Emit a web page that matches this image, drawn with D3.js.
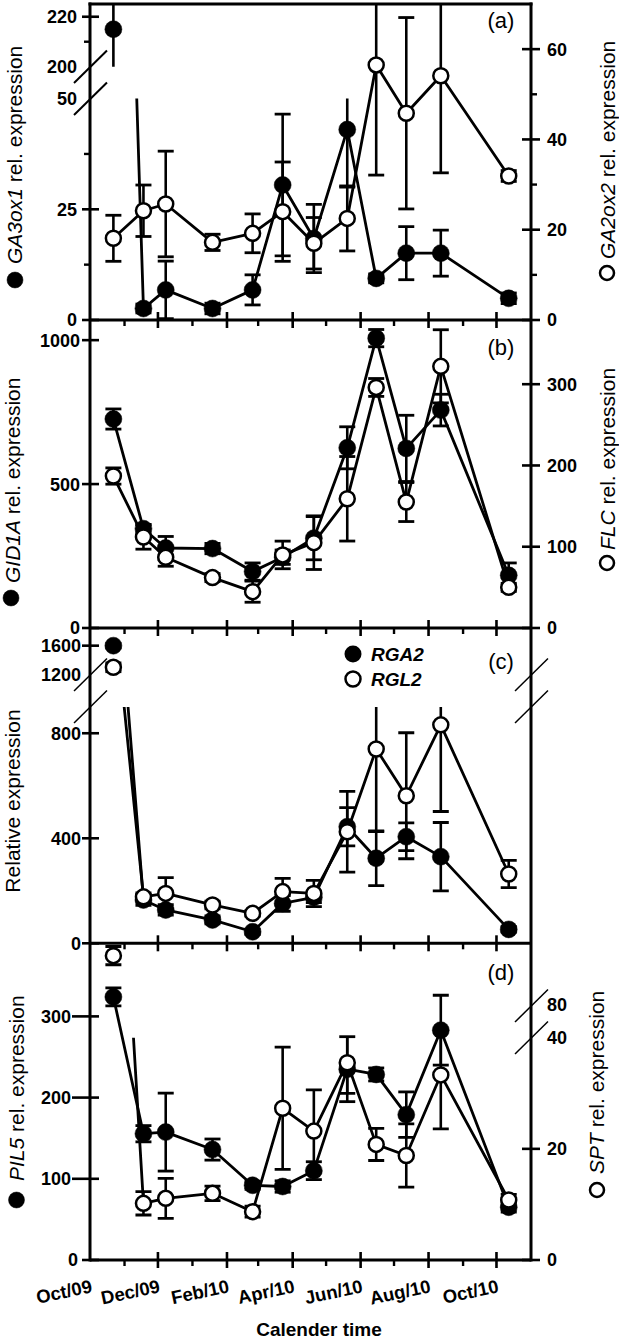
<!DOCTYPE html>
<html><head><meta charset="utf-8">
<script src="https://cdn.jsdelivr.net/npm/d3@7"></script>
<style>body{margin:0;background:#fff}svg{display:block}text{font-family:"Liberation Sans",Arial,sans-serif;fill:#000}</style>
</head><body><svg id="c" width="619" height="1339"></svg>
<script>
// ---------- data ----------
const sampleDates = ["2009-10-22","2009-11-18","2009-12-08","2010-01-19","2010-02-24","2010-03-23",
                     "2010-04-20","2010-05-20","2010-06-15","2010-07-12","2010-08-12","2010-10-12"];
const monthLabels = ["Oct/09","Dec/09","Feb/10","Apr/10","Jun/10","Aug/10","Oct/10"];

// (a)
const ga3ox1    = [215, 2.6, 6.8, 2.6, 6.8, 30.5, 18.4, 43, 9.4, 15.1, 15.1, 4.9];
const ga3ox1Err = [16, 1, 6.5, 1.2, 3.4, 16, 7.7, 13, 1, 6, 5.2, 1.2];
const ga2ox2    = [18.1, 24.2, 25.7, 17.2, 19.2, 24, 17.0, 22.5, 56.5, 45.8, 54.1, 31.9];
const ga2ox2Err = [5.1, 5.7, 11.7, 1.8, 4.3, 11, 5.7, 7.2, 24.4, 21.2, 21.5, 1.2];
// (b)
const gid1a    = [726, 345, 278, 276, 196, 246, 312, 626, 1007, 624, 757, 183];
const gid1aErr = [35, 15, 40, 18, 30, 25, 75, 73, 30, 115, 55, 43];
const flc      = [187, 112, 87, 62, 44.7, 89.9, 105, 159, 296, 155, 322, 50];
const flcErr   = [10, 15, 11, 5, 13, 17, 33, 52, 11, 24, 45, 5];
// (c)
const rga2    = [1600, 165, 127, 89, 44, 152, 175, 444, 324, 406, 330, 53];
const rga2Err = [30, 20, 20, 15, 10, 30, 20, 73, 104, 53, 130, 10];
const rgl2    = [1305, 177, 190, 146, 114, 197, 190, 425, 740, 562, 832, 264];
const rgl2Err = [60, 15, 60, 15, 10, 50, 50, 154, 315, 240, 330, 52];
// (d)
const pil5    = [324, 155.5, 157.5, 136, 92, 90.5, 110, 235, 228.5, 179, 283, 65];
const pil5Err = [11, 10, 48, 13, 5, 7, 11, 40, 8, 28, 43, 6];
const spt     = [100, 10.2, 11.1, 12.0, 8.7, 27.3, 23.2, 35.5, 20.8, 18.8, 33.3, 10.8];
const sptErr  = [3.7, 2.1, 3.6, 1.3, 1, 11, 7.4, 5.5, 2.9, 5.7, 9.7, 1];

// tick values
const aLeftMajor = [0, 25], aLeftMinor = [12.5, 37.5], aLeftLabels = [0, 25, 50];
const aUpMajor = [220], aUpMinor = [210], aUpLabels = [200, 220];
const aRightMajor = [0, 20, 40, 60], aRightMinor = [10, 30, 50];
const bLeftMajor = [0, 500, 1000], bRightMajor = [0, 100, 200, 300];
const cLeftMajor = [0, 400, 800], cUpMajor = [1600], cUpLabels = [1200, 1600];
const dLeftMajor = [0, 100, 200, 300], dRightMajor = [0, 20], dRightLabels = [0, 20, 40], dRightUpLabels = [80];

// ---------- setup ----------
const svg = d3.select("#c");
const parse = d3.utcParse("%Y-%m-%d");
const dates = sampleDates.map(parse);
const L = 90, R = 531;
const x = d3.scaleUtc().domain([new Date(Date.UTC(2009,9,1)), new Date(Date.UTC(2010,10,1))]).range([L, R]);

let clipN = 0;
function clip(y0, y1){
  const id = "cl" + (clipN++);
  svg.append("clipPath").attr("id", id).append("rect")
     .attr("x", 0).attr("y", y0).attr("width", 619).attr("height", y1 - y0);
  return `url(#${id})`;
}
function ln(g, x1, y1, x2, y2, w){
  return g.append("line").attr("x1",x1).attr("y1",y1).attr("x2",x2).attr("y2",y2)
          .attr("stroke","#000").attr("stroke-width",w).attr("stroke-linecap","butt");
}

function series(o){
  const useUp = v => o.upper && v >= o.thr;
  const clipL = clip(o.lowerClip[0], o.lowerClip[1]);
  const clipU = o.upper ? clip(o.upperClip[0], o.upperClip[1]) : null;
  const g = svg.append("g");
  o.vals.forEach((v, i) => {
    const s = useUp(v) ? o.upper : o.lower;
    const eg = g.append("g").attr("clip-path", useUp(v) ? clipU : clipL);
    const xx = x(dates[i]), e = o.errs[i];
    const y1 = s(v - e), y2 = s(v + e);
    ln(eg, xx, y1, xx, y2, 2.6);
    ln(eg, xx - 8, y1, xx + 8, y1, 2.8);
    ln(eg, xx - 8, y2, xx + 8, y2, 2.8);
  });
  g.append("path").datum(o.vals).attr("clip-path", clipL)
    .attr("d", d3.line().x((d, i) => x(dates[i])).y(d => o.lower(d)))
    .attr("fill", "none").attr("stroke", "#000").attr("stroke-width", 2.8).attr("stroke-linejoin","round");
  g.selectAll("circle.p").data(o.vals).join("circle")
    .attr("cx", (d, i) => x(dates[i]))
    .attr("cy", d => useUp(d) ? o.upper(d) : o.lower(d))
    .attr("r", o.filled ? 8.5 : 7.5)
    .attr("fill", o.filled ? "#000" : "#fff")
    .attr("stroke", "#000").attr("stroke-width", o.filled ? 0.5 : 2.5);
}

const tickFont = 18;
function leftTicks(scale, major, minor, labels, labelX, outer){
  const g = svg.append("g");
  major.forEach(v => ln(g, L - (outer||8), scale(v), L + 9, scale(v), 2.6));
  (minor||[]).forEach(v => ln(g, L - 6, scale(v), L, scale(v), 2.4));
  labels.forEach(v => g.append("text").attr("x", labelX).attr("y", scale(v)).attr("dy","0.36em")
     .attr("text-anchor","end").attr("font-weight","bold").attr("font-size", tickFont).text(v));
}
function rightTicks(scale, major, minor, labels){
  const g = svg.append("g");
  major.forEach(v => ln(g, R - 9, scale(v), R + 9, scale(v), 2.6));
  (minor||[]).forEach(v => ln(g, R, scale(v), R + 6, scale(v), 2.4));
  labels.forEach(v => g.append("text").attr("x", 547).attr("y", scale(v)).attr("dy","0.36em")
     .attr("text-anchor","start").attr("font-weight","bold").attr("font-size", tickFont).text(v));
}
function bottomTicks(y){
  const g = svg.append("g");
  d3.utcMonths(new Date(Date.UTC(2009,10,1)), new Date(Date.UTC(2010,10,1))).forEach(m => {
    const xx = x(m);
    if (m.getUTCMonth() % 2 === 1) ln(g, xx, y - 8, xx, y + 8, 2.6);
    else ln(g, xx, y, xx, y + 6, 2.4);
  });
}
function breakMark(cx, cy, w){
  ln(svg, cx - 16, cy + 16, cx + 17, cy - 16.5, w);
}
function yTitle(tx, ty, gene, rest, circ, anchor){
  const t = svg.append("text").attr("transform", `translate(${tx},${ty}) rotate(-90)`)
    .attr("font-size", 21).attr("text-anchor", anchor || "start");
  if (gene) t.append("tspan").attr("font-style","italic").text(gene);
  t.append("tspan").text(rest);
  if (circ) svg.append("circle").attr("cx", circ[0]).attr("cy", circ[1]).attr("r", circ[2] ? 8 : 7)
     .attr("fill", circ[2] ? "#000" : "#fff").attr("stroke","#000").attr("stroke-width", circ[2] ? 0.5 : 2.5);
}
function panelLabel(s, y){
  svg.append("text").attr("x", 501).attr("y", y).attr("text-anchor","middle").attr("font-size", 22).text(s);
}

// ---------- scales ----------
const aLower = d3.scaleLinear().domain([0, 50]).range([320, 98.6]);
const aUpper = d3.scaleLinear().domain([200, 225.1]).range([66.7, 4]);
const aRight = d3.scaleLinear().domain([0, 70]).range([320, 4]);
const bLeft  = d3.scaleLinear().domain([0, 1070]).range([628, 320]);
const bRight = d3.scaleLinear().domain([0, 379]).range([628, 320]);
const cLower = d3.scaleLinear().domain([0, 900]).range([943.3, 707]);
const cUpper = d3.scaleLinear().domain([1200, 1841]).range([675, 628]);
const dLeft  = d3.scaleLinear().domain([0, 390]).range([1260, 943.3]);
const dRightLo = d3.scaleLinear().domain([0, 40]).range([1260, 1037.7]);
const dRightUp = d3.scaleLinear().domain([80, 105]).range([1005, 943.3]);

// ---------- series ----------
series({vals: ga3ox1, errs: ga3ox1Err, filled: true, lower: aLower, lowerClip: [98.6, 320], upper: aUpper, upperClip: [4, 66.7], thr: 100});
series({vals: ga2ox2, errs: ga2ox2Err, filled: false, lower: aRight, lowerClip: [4, 320]});
series({vals: gid1a, errs: gid1aErr, filled: true, lower: bLeft, lowerClip: [320, 628]});
series({vals: flc, errs: flcErr, filled: false, lower: bRight, lowerClip: [320, 628]});
series({vals: rga2, errs: rga2Err, filled: true, lower: cLower, lowerClip: [707, 943.3], upper: cUpper, upperClip: [628, 675], thr: 1000});
series({vals: rgl2, errs: rgl2Err, filled: false, lower: cLower, lowerClip: [707, 943.3], upper: cUpper, upperClip: [628, 675], thr: 1000});
series({vals: pil5, errs: pil5Err, filled: true, lower: dLeft, lowerClip: [943.3, 1260]});
series({vals: spt, errs: sptErr, filled: false, lower: dRightLo, lowerClip: [1037.7, 1260], upper: dRightUp, upperClip: [943.3, 1005], thr: 60});

// ---------- frame ----------
const fr = svg.append("g");
ln(fr, L - 1.5, 4, R + 1.5, 4, 3);
ln(fr, L, 2.5, L, 1261.5, 3);
ln(fr, R, 2.5, R, 1261.5, 3);
[320, 628, 943.3, 1260].forEach(y => { ln(fr, L, y, R, y, 3); bottomTicks(y); });

// ---------- axes ----------
leftTicks(aLower, aLeftMajor, aLeftMinor, aLeftLabels, 77);
leftTicks(aUpper, aUpMajor, aUpMinor, aUpLabels, 77);
rightTicks(aRight, aRightMajor, aRightMinor, aRightMajor);
leftTicks(bLeft, bLeftMajor, [], bLeftMajor, 80);
rightTicks(bRight, bRightMajor, [], bRightMajor);
leftTicks(cLower, cLeftMajor, [], cLeftMajor, 81);
leftTicks(cUpper, cUpMajor, [], cUpLabels, 81);
leftTicks(dLeft, dLeftMajor.slice(1), [], dLeftMajor.slice(1), 71, 18);
leftTicks(dLeft, [0], [], [0], 78);
rightTicks(dRightLo, dRightMajor, [], dRightLabels);
rightTicks(dRightUp, [], [], dRightUpLabels);

breakMark(L, 67, 2); breakMark(L, 99, 2);
breakMark(L, 675, 1.5); breakMark(L, 707, 1.5);
breakMark(R, 675, 1.5); breakMark(R, 707, 1.5);
breakMark(R, 1006, 1.5); breakMark(R, 1038, 1.5);

// x labels
const majorMonths = d3.utcMonths(new Date(Date.UTC(2009,9,1)), new Date(Date.UTC(2010,10,1)), 2);
majorMonths.forEach((m, i) => {
  const xx = x(m) + 3;
  svg.append("text").attr("transform", `translate(${xx},1292) rotate(-12)`)
    .attr("text-anchor","end").attr("font-weight","bold").attr("font-size", 18.5).text(monthLabels[i]);
});
svg.append("text").attr("x", 319).attr("y", 1336).attr("text-anchor","middle")
  .attr("font-weight","bold").attr("font-size", 19).text("Calender time");

// titles
yTitle(22, 264, "GA3ox1", " rel. expression", [15, 280, true]);
yTitle(615, 259, "GA2ox2", " rel. expression", [607, 273, false]);
yTitle(19.5, 583, "GID1A", " rel. expression", [11, 598, true]);
yTitle(615, 550, "FLC", " rel. expression", [607, 563, false]);
yTitle(20, 801, null, "Relative expression", null, "middle");
yTitle(24, 1181, "PIL5", " rel. expression", [16.5, 1200, true]);
yTitle(604, 1174, "SPT", " rel. expression", [597, 1190, false]);

panelLabel("(a)", 28);
panelLabel("(b)", 355);
panelLabel("(c)", 669);
panelLabel("(d)", 980);

// legend (c)
svg.append("circle").attr("cx", 353).attr("cy", 654).attr("r", 8.5).attr("fill","#000");
svg.append("text").attr("x", 371).attr("y", 661).attr("font-weight","bold").attr("font-style","italic").attr("font-size", 19).text("RGA2");
svg.append("circle").attr("cx", 353).attr("cy", 679).attr("r", 7.5).attr("fill","#fff").attr("stroke","#000").attr("stroke-width",2.5);
svg.append("text").attr("x", 371).attr("y", 686).attr("font-weight","bold").attr("font-style","italic").attr("font-size", 19).text("RGL2");
</script></body></html>
